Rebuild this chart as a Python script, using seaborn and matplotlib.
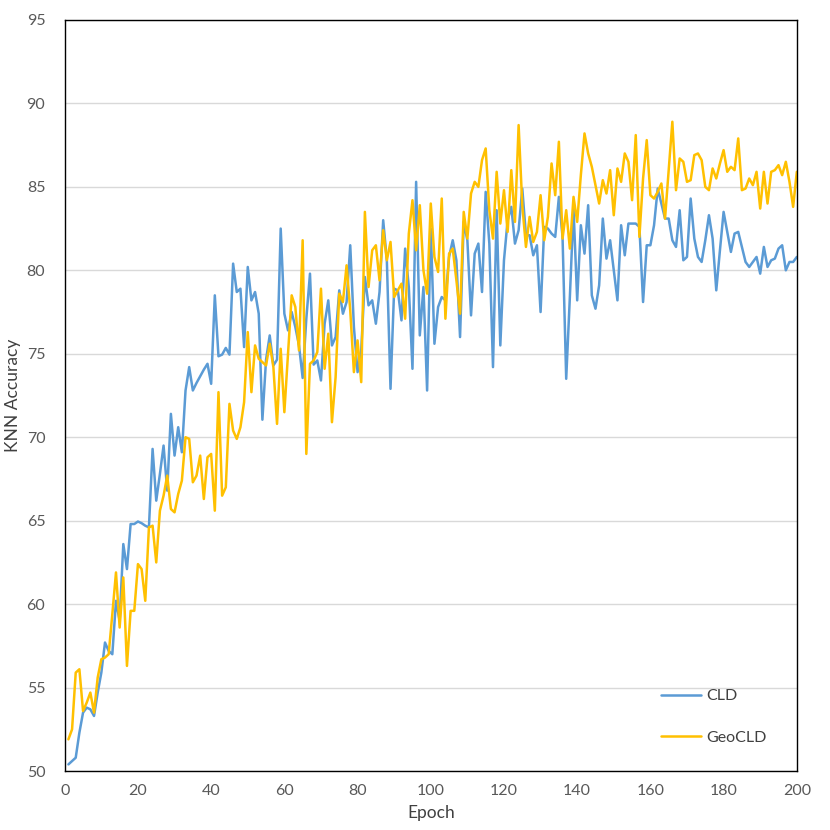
import numpy as np
import pandas as pd
import matplotlib
matplotlib.use("Agg")
import matplotlib.pyplot as plt
import seaborn as sns

# KNN accuracy per epoch
epochs = list(range(1, 201))

cld = [
    50.4, 50.6, 50.8, 52.3, 53.5, 53.8, 53.7, 53.3, 54.7, 55.9,
    57.7, 57.2, 57.0, 60.2, 59.0, 63.6, 62.1, 64.8, 64.8, 64.95,
    64.85, 64.7, 64.6, 69.3, 66.2, 67.8, 69.5, 66.8, 71.4, 68.9,
    70.6, 69.1, 72.8, 74.2, 72.8, 73.25, 73.65, 74.05, 74.4, 73.2,
    78.5, 74.85, 74.95, 75.35, 74.95, 80.4, 78.7, 78.9, 75.4, 80.2,
    78.2, 78.7, 77.4, 71.05, 74.65, 76.1, 74.3, 74.65, 82.5, 77.4,
    76.4, 77.5, 76.6, 75.5, 73.55, 77.1, 79.8, 74.35, 74.6, 73.4,
    76.8, 78.2, 75.5, 76.0, 78.8, 77.4, 78.1, 81.5, 76.6, 73.9,
    75.2, 79.6, 77.9, 78.2, 76.8, 78.7, 83.0, 80.6, 72.9, 78.9,
    78.8, 77.0, 81.3, 79.0, 74.1, 85.3, 76.1, 79.0, 72.8, 82.5,
    75.6, 77.8, 78.4, 78.2, 80.8, 81.8, 80.6, 76.0, 82.9, 81.8,
    77.3, 81.0, 81.6, 78.7, 84.7, 81.6, 74.2, 83.6, 75.5, 80.6,
    83.0, 83.8, 81.6, 82.4, 84.9, 82.1, 82.1, 80.9, 81.5, 77.5,
    82.6, 82.5, 82.2, 82.0, 84.4, 82.0, 73.5, 78.4, 83.7, 78.2,
    82.7, 81.0, 83.9, 78.5, 77.7, 79.1, 83.1, 80.7, 81.8, 80.0,
    78.2, 82.7, 80.9, 82.8, 82.8, 82.8, 82.6, 78.1, 81.5, 81.5,
    82.7, 84.9, 84.0, 83.1, 83.1, 81.8, 81.4, 83.6, 80.6, 80.8,
    84.3, 81.9, 80.8, 80.5, 81.8, 83.3, 81.9, 78.8, 81.2, 83.5,
    82.3, 81.1, 82.2, 82.3, 81.4, 80.5, 80.2, 80.5, 80.8, 79.8,
    81.4, 80.2, 80.6, 80.7, 81.3, 81.5, 80.0, 80.5, 80.5, 80.8,
]

geocld = [
    51.9, 52.5, 55.9, 56.1, 53.6, 54.1, 54.7, 53.5, 55.6, 56.7,
    56.8, 57.0, 59.4, 61.9, 58.6, 61.6, 56.3, 59.6, 59.6, 62.4,
    62.1, 60.2, 64.6, 64.7, 62.5, 65.6, 66.5, 67.7, 65.7, 65.5,
    66.6, 67.4, 70.0, 69.9, 67.3, 67.7, 68.9, 66.3, 68.8, 69.0,
    65.6, 72.7, 66.5, 67.0, 72.0, 70.4, 69.9, 70.6, 72.1, 76.3,
    72.7, 75.5, 74.7, 74.5, 74.3, 75.6, 74.2, 70.8, 75.3, 71.5,
    75.0, 78.5, 77.8, 75.2, 81.8, 69.0, 74.4, 74.6, 75.1, 78.9,
    74.1, 76.2, 70.9, 73.6, 78.6, 78.1, 80.3, 77.6, 73.9, 75.8,
    73.3, 83.5, 79.0, 81.2, 81.5, 79.4, 82.4, 80.6, 81.7, 78.4,
    78.8, 79.2, 77.1, 82.2, 84.2, 81.2, 83.9, 80.0, 78.6, 84.0,
    80.8, 79.9, 84.3, 77.1, 81.0, 81.3, 79.4, 77.4, 83.5, 81.9,
    84.6, 85.3, 85.0, 86.6, 87.3, 83.6, 81.9, 85.9, 82.8, 84.8,
    82.3, 86.0, 82.9, 88.7, 83.9, 81.4, 83.2, 81.7, 82.3, 84.5,
    81.8, 83.2, 86.4, 84.5, 87.7, 81.9, 83.6, 81.3, 84.4, 82.9,
    85.7, 88.2, 87.0, 86.2, 85.1, 84.0, 85.4, 84.6, 86.0, 83.3,
    86.1, 85.3, 87.0, 86.5, 84.2, 88.1, 82.0, 85.5, 87.8, 84.5,
    84.3, 84.7, 85.2, 83.1, 86.0, 88.9, 84.8, 86.7, 86.5, 85.3,
    85.4, 86.9, 87.0, 86.6, 85.0, 84.8, 86.1, 85.5, 86.4, 87.2,
    85.9, 86.2, 86.0, 87.9, 84.8, 84.9, 85.5, 85.1, 85.9, 83.7,
    85.9, 84.0, 85.9, 86.0, 86.3, 85.7, 86.5, 85.3, 83.8, 85.9,
]

x_ticks = list(range(0, 201, 20))
y_ticks = list(range(50, 96, 5))

# long format table for seaborn
df = pd.DataFrame({
    "Epoch": epochs * 2,
    "KNN Accuracy": cld + geocld,
    "Model": ["CLD"] * len(cld) + ["GeoCLD"] * len(geocld),
})

sns.set_theme(style="white")
plt.rcParams["font.family"] = ["Lato", "DejaVu Sans"]

fig = plt.figure(figsize=(8.3, 8.3), dpi=100)
ax = fig.add_axes([0.078, 0.071, 0.882, 0.905])

sns.lineplot(data=df, x="Epoch", y="KNN Accuracy", hue="Model",
             palette={"CLD": "#5B9BD5", "GeoCLD": "#FFC000"},
             linewidth=1.8, ax=ax)

ax.set_xlim(0, 200)
ax.set_ylim(50, 95)
ax.set_xticks(x_ticks)
ax.set_yticks(y_ticks)
ax.yaxis.grid(True, color="#D9D9D9", linewidth=1.0)
ax.xaxis.grid(False)
ax.set_axisbelow(True)
ax.tick_params(axis="both", length=0, labelsize=11.5, colors="#595959")
ax.tick_params(axis="y", pad=14)
ax.tick_params(axis="x", pad=9)
for spine in ax.spines.values():
    spine.set_color("black")
    spine.set_linewidth(1.0)

ax.set_xlabel("Epoch", fontsize=12.5, color="#404040", labelpad=5)
ax.set_ylabel("KNN Accuracy", fontsize=12.5, color="#404040", labelpad=4)

leg = ax.legend(loc="center left", bbox_to_anchor=(0.795, 0.072),
                frameon=False, fontsize=11.5, handlelength=2.5,
                handletextpad=0.3, labelspacing=1.7)
for text in leg.get_texts():
    text.set_color("#404040")

plt.savefig("out.png", dpi=100)
